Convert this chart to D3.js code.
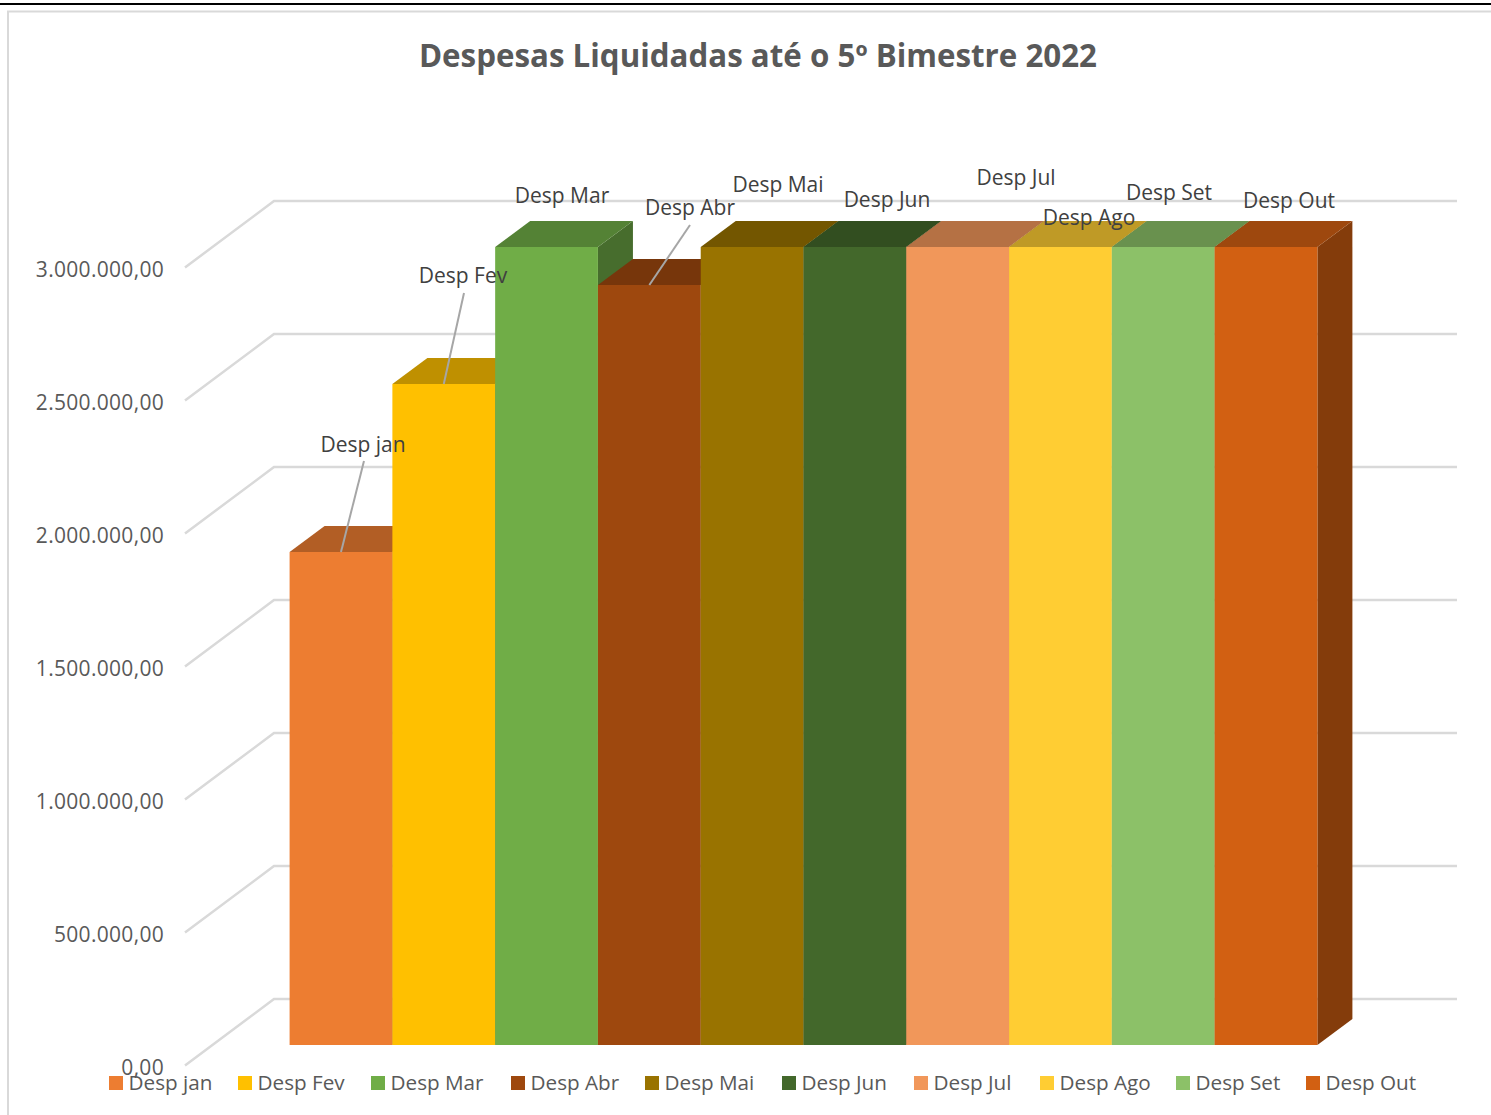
<!DOCTYPE html>
<html><head><meta charset="utf-8">
<style>html,body{margin:0;padding:0;background:#fff}svg{display:block}text{font-family:"Open Sans",sans-serif}</style>
<script src="https://cdn.jsdelivr.net/npm/d3@7"></script></head>
<body><svg id="c" width="1491" height="1115"></svg>
<script>
const categories=["Desp jan","Desp Fev","Desp Mar","Desp Abr","Desp Mai","Desp Jun","Desp Jul","Desp Ago","Desp Set","Desp Out"];
const values=[1853000,2485000,3000000,2857000,3000000,3000000,3000000,3000000,3000000,3000000];
const colors=["#ED7D31","#FFC000","#70AD47","#9E480E","#997300","#43682B","#F1975A","#FFCD33","#8CC168","#D26012"];
const yTicks=[0,500000,1000000,1500000,2000000,2500000,3000000];
const tickLabels=["0,00","500.000,00","1.000.000,00","1.500.000,00","2.000.000,00","2.500.000,00","3.000.000,00"];
const labelPos=[[363,444],[463,275],[562,195],[690,207],[778,184],[887,199],[1016,177],[1089,217],[1169,192],[1289,200]];
const leaders=[[364,461,0],[464,293,1],[690,225,3]];
const legendX=[109,238,371,511,645,782,914,1040,1176,1306];

const svg=d3.select("#c");
const x=d3.scaleBand().domain(categories).range([289.6,1317.4]);
const y=d3.scaleLinear().domain([0,3000000]).range([1045,247]);
const dx=35,dy=-26;
const shade=(c,k)=>{const r=d3.rgb(c);return d3.rgb(r.r*k,r.g*k,r.b*k).formatHex();};
const poly=(pts,fill)=>svg.append("polygon").attr("points",pts.map(p=>p.join(",")).join(" ")).attr("fill",fill);

// page chrome
svg.append("rect").attr("x",0).attr("y",3).attr("width",1491).attr("height",2).attr("fill","#000");
svg.append("path").attr("d","M8,1115V11.5H1491").attr("fill","none").attr("stroke","#d9d9d9").attr("stroke-width",2);

// title
svg.append("text").attr("x",758).attr("y",67).attr("text-anchor","middle").attr("font-size",31.3).attr("font-weight",700).attr("fill","#595959").text("Despesas Liquidadas até o 5º Bimestre 2022");

// grid: front-left tick to back wall to right edge
yTicks.forEach((t,i)=>{
  const yF=y(t)+20.5, yB=y(t)-46;
  svg.append("polyline").attr("points",`185,${yF} 274,${yB} 1457,${yB}`).attr("fill","none").attr("stroke","#d9d9d9").attr("stroke-width",2.5);
  svg.append("text").attr("x",164).attr("y",yF+9).attr("text-anchor","end").attr("font-size",21).attr("letter-spacing",0.3).attr("fill","#595959").text(tickLabels[i]);
});

// bars
categories.forEach((c,i)=>{
  const x0=x(c),x1=x0+x.bandwidth(),yT=y(values[i]),yB=y(0);
  poly([[x1,yT],[x1+dx,yT+dy],[x1+dx,yB+dy],[x1,yB]],shade(colors[i],.63));
  poly([[x0,yT],[x0+dx,yT+dy],[x1+dx,yT+dy],[x1,yT]],shade(colors[i],.75));
  poly([[x0,yT],[x1,yT],[x1,yB],[x0,yB]],colors[i]);
});

// leader lines
leaders.forEach(([lx,ly,i])=>{
  const c=categories[i];
  svg.append("line").attr("x1",lx).attr("y1",ly).attr("x2",x(c)+x.bandwidth()/2).attr("y2",y(values[i])).attr("stroke","#a6a6a6").attr("stroke-width",2);
});

// data labels
categories.forEach((c,i)=>{
  svg.append("text").attr("x",labelPos[i][0]).attr("y",labelPos[i][1]+7.5).attr("text-anchor","middle").attr("font-size",21).attr("fill","#404040").text(c);
});

// legend
categories.forEach((c,i)=>{
  svg.append("rect").attr("x",legendX[i]).attr("y",1076).attr("width",14).attr("height",14).attr("fill",colors[i]);
  svg.append("text").attr("x",legendX[i]+19.5).attr("y",1090).attr("font-size",20.7).attr("fill","#595959").text(c);
});
</script></body></html>
